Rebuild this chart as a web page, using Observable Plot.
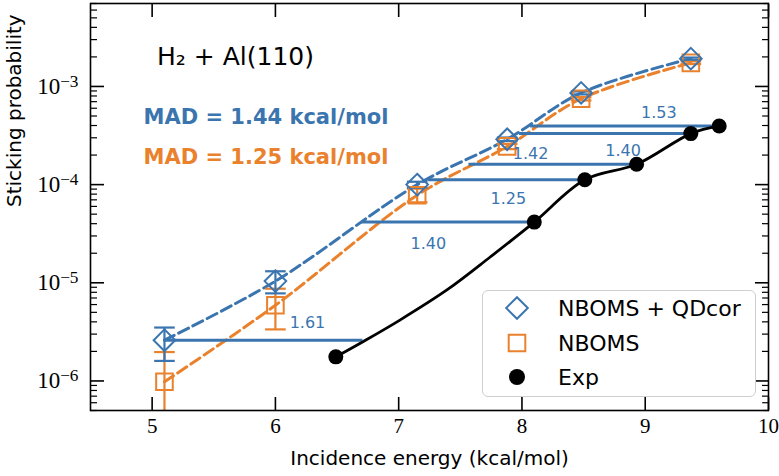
<!DOCTYPE html>
<html>
<head>
<meta charset="utf-8">
<script src="https://cdn.jsdelivr.net/npm/d3@7"></script>
<script src="https://cdn.jsdelivr.net/npm/@observablehq/plot@0.6"></script>
<style>
  body { margin: 0; background: white; }
  #wrap { position: relative; width: 779px; height: 476px; }
  #legend { position: absolute; left: 482px; top: 290px; width: 272px; height: 105px;
            border: 1.5px solid #cfcfcf; border-radius: 6px; background: rgba(255,255,255,0.85); }
  #legend svg { position: absolute; left: 0; top: 0; }
</style>
</head>
<body>
<div id="wrap"></div>
<script>
// ---------- data ----------
const energies = [5.1, 6.0, 7.15, 7.88, 8.48, 9.37];
// NBOMS + QDcor
const qdS  = [2.6e-6, 1.04e-5, 1.0e-4, 2.9e-4, 8.6e-4, 1.92e-3];
const qdLo = [1.6e-6, 7.8e-6, 0.93e-4, 2.78e-4, 8.3e-4, 1.87e-3];
const qdHi = [3.5e-6, 1.31e-5, 1.07e-4, 3.02e-4, 8.9e-4, 1.97e-3];
// NBOMS
const nbS  = [9.8e-7, 5.9e-6, 7.8e-5, 2.45e-4, 7.5e-4, 1.74e-3];
const nbLo = [1e-8, 3.35e-6, 6.6e-5, 2.3e-4, 7.2e-4, 1.69e-3];
const nbHi = [1.97e-6, 8.7e-6, 9.1e-5, 2.6e-4, 7.8e-4, 1.80e-3];
// Experiment (measured points)
const expE = [6.49, 8.10, 8.51, 8.93, 9.37, 9.60];
const expS = [1.76e-6, 4.15e-5, 1.12e-4, 1.61e-4, 3.31e-4, 3.96e-4];
const expCurveE = [6.49, 6.71, 7.01, 7.40, 7.74, 8.10, 8.51, 8.93, 9.37, 9.60];
const expCurveS = [1.76e-6, 2.51e-6, 4.17e-6, 8.6e-6, 1.82e-5, 4.15e-5, 1.12e-4, 1.61e-4, 3.31e-4, 3.96e-4];
// energy shifts (horizontal segments)
const shiftS    = [2.6e-6, 4.15e-5, 1.12e-4, 1.61e-4, 3.31e-4, 3.96e-4];
const shiftFrom = [5.1, 6.70, 7.24, 7.57, 7.98, 8.07];
const shiftTo   = [6.71, 8.10, 8.51, 8.93, 9.37, 9.60];
const shiftText = ["1.61", "1.40", "1.25", "1.40", "1.42", "1.53"];
const shiftLabelE = [6.26, 7.24, 7.89, 8.82, 8.07, 9.11];
const shiftLabelS = [3.9e-6, 2.52e-5, 7.24e-5, 2.22e-4, 2.08e-4, 5.43e-4];
// tick values
const xTicks = [5, 6, 7, 8, 9, 10];
const yTicks = [1e-6, 1e-5, 1e-4, 1e-3];
const yDomain = [5e-7, 7e-3];
const yMinor = d3.scaleLog().domain(yDomain).ticks().filter(v => !yTicks.some(t => Math.abs(t - v) / t < 1e-9));
// annotations
const titleText = "H₂ + Al(110)";
const madText = ["MAD = 1.44 kcal/mol", "MAD = 1.25 kcal/mol"];
const madE = [4.93, 4.93];
const madS = [4.83e-4, 1.89e-4];
const legendNames = ["NBOMS + QDcor", "NBOMS", "Exp"];

// ---------- styles ----------
const blue = "#3b75af";
const orange = "#ea812c";
const sans = "DejaVu Sans";
const serif = "Liberation Serif";

const diamondSym = { draw(c, size) { const r = Math.sqrt(size / Math.PI); c.moveTo(0, -r); c.lineTo(r, 0); c.lineTo(0, r); c.lineTo(-r, 0); c.closePath(); } };
const squareSym  = { draw(c, size) { const r = Math.sqrt(size / Math.PI); c.rect(-r, -r, 2 * r, 2 * r); } };
const capSym     = { draw(c, size) { const r = Math.sqrt(size / Math.PI); c.moveTo(-r, 0); c.lineTo(r, 0); } };

const qdRows = energies.map((e, i) => ({e, s: qdS[i], lo: qdLo[i], hi: qdHi[i]}));
const nbRows = energies.map((e, i) => ({e, s: nbS[i], lo: nbLo[i], hi: nbHi[i]}));
const expRows = expE.map((e, i) => ({e, s: expS[i]}));
const expCurve = expCurveE.map((e, i) => ({e, s: expCurveS[i]}));
const shiftRows = shiftS.map((s, i) => ({s, from: shiftFrom[i], to: shiftTo[i]}));
const shiftLabels = shiftText.map((t, i) => ({t, e: shiftLabelE[i], s: shiftLabelS[i]}));
const madRows = madText.map((t, i) => ({t, e: madE[i], s: madS[i], c: i === 0 ? blue : orange}));

const chart = Plot.plot({
  width: 779, height: 476,
  marginLeft: 90, marginRight: 11, marginTop: 3, marginBottom: 66,
  x: {domain: [4.5, 10]},
  y: {type: "log", domain: yDomain},
  style: {fontFamily: sans, background: "white", color: "black", overflow: "visible"},
  marks: [
    // theory dashed curves
    Plot.line(qdRows, {x: "e", y: "s", curve: "catmull-rom", stroke: blue, strokeWidth: 3, strokeDasharray: "11,5"}),
    Plot.line(nbRows, {x: "e", y: "s", curve: "catmull-rom", stroke: orange, strokeWidth: 3, strokeDasharray: "11,5"}),
    // error bars
    Plot.ruleX(nbRows, {x: "e", y1: "lo", y2: "hi", stroke: orange, strokeWidth: 2.2, clip: true}),
    Plot.dot(nbRows.filter(d => d.lo > yDomain[0]), {x: "e", y: "lo", symbol: capSym, r: 10.3, stroke: orange, strokeWidth: 2.2}),
    Plot.dot(nbRows, {x: "e", y: "hi", symbol: capSym, r: 10.3, stroke: orange, strokeWidth: 2.2}),
    Plot.ruleX(qdRows, {x: "e", y1: "lo", y2: "hi", stroke: blue, strokeWidth: 2.2}),
    Plot.dot(qdRows, {x: "e", y: "lo", symbol: capSym, r: 10.3, stroke: blue, strokeWidth: 2.2}),
    Plot.dot(qdRows, {x: "e", y: "hi", symbol: capSym, r: 10.3, stroke: blue, strokeWidth: 2.2}),
    // markers
    Plot.dot(nbRows, {x: "e", y: "s", symbol: squareSym, r: 8.3, stroke: orange, strokeWidth: 2, fill: "none"}),
    Plot.dot(qdRows, {x: "e", y: "s", symbol: diamondSym, r: 10.8, stroke: blue, strokeWidth: 2, fill: "none"}),
    // horizontal energy-shift segments
    Plot.ruleY(shiftRows, {y: "s", x1: "from", x2: "to", stroke: blue, strokeWidth: 3}),
    // experiment
    Plot.line(expCurve, {x: "e", y: "s", curve: "catmull-rom", stroke: "black", strokeWidth: 2.8}),
    Plot.dot(expRows, {x: "e", y: "s", r: 7.5, fill: "black"}),
    // texts
    Plot.text(shiftLabels, {x: "e", y: "s", text: "t", fill: blue, fontSize: 16, fontFamily: sans}),
    Plot.text([titleText], {x: [5.04], y: [1.98e-3], text: d => d, textAnchor: "start", fontSize: 25, fontFamily: sans, fill: "black"}),
    Plot.text(madRows, {x: "e", y: "s", text: "t", fill: "c", textAnchor: "start", fontSize: 21, fontWeight: "bold", fontFamily: sans}),
    // axes: ticks inward on all sides
    Plot.axisX({anchor: "bottom", ticks: xTicks, tickSize: -13, strokeWidth: 1.6, tickFormat: () => "", label: null}),
    Plot.axisX({anchor: "top", ticks: xTicks, tickSize: -13, strokeWidth: 1.6, tickFormat: () => "", label: null}),
    Plot.axisX({anchor: "bottom", ticks: xTicks, tickSize: 0, tickPadding: 8, tickFormat: d => String(d), fontFamily: serif, fontSize: 21, label: null}),
    Plot.axisY({anchor: "left", ticks: yTicks, tickSize: -14, strokeWidth: 1.6, tickFormat: () => "", label: null}),
    Plot.axisY({anchor: "right", ticks: yTicks, tickSize: -14, strokeWidth: 1.6, tickFormat: () => "", label: null}),
    Plot.axisY({anchor: "left", ticks: yMinor, tickSize: -7, strokeWidth: 1.2, tickFormat: () => "", label: null}),
    Plot.axisY({anchor: "right", ticks: yMinor, tickSize: -7, strokeWidth: 1.2, tickFormat: () => "", label: null}),
    Plot.axisY({anchor: "left", ticks: yTicks, tickSize: 0, tickPadding: 12, tickFormat: d => "10^−" + Math.round(-Math.log10(d)), fontFamily: serif, fontSize: 23, label: null}),
    // axis titles
    Plot.text(["Incidence energy (kcal/mol)"], {frameAnchor: "bottom", text: d => d, dy: 54, fontSize: 20, fontFamily: sans, fill: "black"}),
    Plot.text(["Sticking probability"], {frameAnchor: "left", text: d => d, rotate: -90, dx: -76, fontSize: 20, fontFamily: sans, fill: "black"}),
    Plot.frame({stroke: "black", strokeWidth: 1.6})
  ]
});

// superscripts on the log axis labels
d3.select(chart).selectAll('g[aria-label="y-axis tick label"] text').each(function () {
  const t = this.textContent;
  if (!t.includes("^")) return;
  const [b, e] = t.split("^");
  const sel = d3.select(this);
  sel.text(null);
  sel.append("tspan").text(b);
  sel.append("tspan").attr("dy", "-0.42em").attr("font-size", "0.75em").text(e);
});

const wrap = document.getElementById("wrap");
wrap.appendChild(chart);

// legend (inside plot area, lower right)
const leg = d3.select(wrap).append("div").attr("id", "legend");
const lsvg = leg.append("svg").attr("width", 272).attr("height", 105);
const rowY = [17, 52, 86];
const markerX = 34, textX = 75;
const syms = [
  {sym: diamondSym, r: 10.8, stroke: blue, fill: "none"},
  {sym: squareSym, r: 8.3, stroke: orange, fill: "none"},
  {sym: d3.symbolCircle, r: 8, stroke: "none", fill: "black"}
];
legendNames.forEach((name, i) => {
  const s = syms[i];
  lsvg.append("path")
    .attr("d", d3.symbol(s.sym, Math.PI * s.r * s.r)())
    .attr("transform", `translate(${markerX},${rowY[i]})`)
    .attr("fill", s.fill).attr("stroke", s.stroke).attr("stroke-width", 2);
  lsvg.append("text").attr("x", textX).attr("y", rowY[i]).attr("dy", "0.35em")
    .attr("font-family", sans).attr("font-size", 22).text(name);
});
</script>
</body>
</html>
